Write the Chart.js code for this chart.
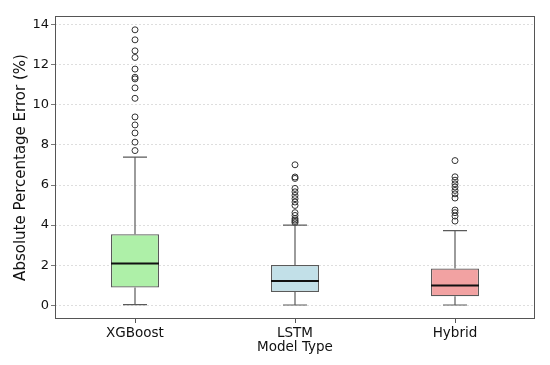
<!DOCTYPE html>
<html>
<head>
<meta charset="utf-8">
<script src="https://cdn.jsdelivr.net/npm/chart.js@4/dist/chart.umd.min.js"></script>
<style>
  html, body { margin: 0; padding: 0; background: #fff; }
  #wrap { width: 550px; height: 365px; }
</style>
</head>
<body>
<div id="wrap"><canvas id="boxChart"></canvas></div>
<script>
// box plot summary
const models = ["XGBoost", "LSTM", "Hybrid"];
const q1 = [0.88, 0.66, 0.45];
const medians = [2.08, 1.21, 0.98];
const q3 = [3.54, 2.01, 1.83];
const whiskerLow = [0.03, 0.01, 0.01];
const whiskerHigh = [7.39, 4.0, 3.72];
const outliersXGB = [13.75, 13.25, 12.7, 12.37, 11.79, 11.38, 11.3, 10.85, 10.33, 9.4, 9.0, 8.6, 8.14, 7.72];
const outliersLSTM = [7.01, 6.4, 6.33, 5.83, 5.66, 5.48, 5.32, 5.15, 4.98, 4.62, 4.48, 4.33, 4.25, 4.18, 4.12];
const outliersHybrid = [7.22, 6.41, 6.24, 6.06, 5.9, 5.73, 5.56, 5.35, 4.75, 4.62, 4.45, 4.2];
const yTicks = [0, 2, 4, 6, 8, 10, 12, 14];

const boxColors = ["#aef0a8", "#c2e0e8", "#f2a2a2"];
const lineColor = "#5a5a5a";

const outlierPoints = [];
[outliersXGB, outliersLSTM, outliersHybrid].forEach((list, i) => {
  list.forEach((v) => outlierPoints.push({ x: models[i], y: v }));
});

// whiskers, caps, medians and the frame
const boxPlugin = {
  id: "boxExtras",
  afterDatasetsDraw(chart) {
    const ctx = chart.ctx;
    const xs = chart.scales.x;
    const ys = chart.scales.y;
    const bars = chart.getDatasetMeta(0).data;
    ctx.save();
    models.forEach((m, i) => {
      const cx = xs.getPixelForValue(i);
      const bw = bars[i].width;
      const capHalf = bw / 4;
      ctx.strokeStyle = lineColor;
      ctx.lineWidth = 1.2;
      ctx.beginPath();
      ctx.moveTo(cx, ys.getPixelForValue(q3[i]));
      ctx.lineTo(cx, ys.getPixelForValue(whiskerHigh[i]));
      ctx.moveTo(cx, ys.getPixelForValue(q1[i]));
      ctx.lineTo(cx, ys.getPixelForValue(whiskerLow[i]));
      ctx.moveTo(cx - capHalf, ys.getPixelForValue(whiskerHigh[i]));
      ctx.lineTo(cx + capHalf, ys.getPixelForValue(whiskerHigh[i]));
      ctx.moveTo(cx - capHalf, ys.getPixelForValue(whiskerLow[i]));
      ctx.lineTo(cx + capHalf, ys.getPixelForValue(whiskerLow[i]));
      ctx.stroke();
      ctx.strokeStyle = "#111";
      ctx.lineWidth = 2;
      ctx.beginPath();
      ctx.moveTo(cx - bw / 2, ys.getPixelForValue(medians[i]));
      ctx.lineTo(cx + bw / 2, ys.getPixelForValue(medians[i]));
      ctx.stroke();
    });
    const a = chart.chartArea;
    ctx.strokeStyle = "#555";
    ctx.lineWidth = 1;
    ctx.strokeRect(a.left + 0.5, a.top + 0.5, a.right - a.left - 1, a.bottom - a.top - 1);
    ctx.restore();
  },
};

new Chart(document.getElementById("boxChart"), {
  data: {
    labels: models,
    datasets: [
      {
        type: "bar",
        label: "IQR",
        data: models.map((m, i) => [q1[i], q3[i]]),
        backgroundColor: boxColors,
        borderColor: lineColor,
        borderWidth: 1.2,
        borderSkipped: false,
        barPercentage: 0.3,
        categoryPercentage: 1,
        order: 2,
      },
      {
        type: "line",
        label: "Outliers",
        data: outlierPoints,
        showLine: false,
        pointRadius: 3,
        pointBorderWidth: 1,
        pointBorderColor: "#333",
        pointBackgroundColor: "rgba(0,0,0,0)",
        order: 1,
      },
    ],
  },
  options: {
    responsive: true,
    maintainAspectRatio: false,
    animation: false,
    layout: { padding: { top: 16, right: 15, left: 0, bottom: 0 } },
    plugins: {
      legend: { display: false },
      tooltip: { enabled: false },
    },
    scales: {
      x: {
        type: "category",
        offset: true,
        grid: { offset: false, drawOnChartArea: false, drawTicks: true, tickLength: 4, color: "#555" },
        border: { display: false },
        ticks: { color: "#111", font: { family: "DejaVu Sans", size: 13.5 }, padding: 2 },
        title: {
          display: true,
          text: "Model Type",
          color: "#111",
          font: { family: "DejaVu Sans", size: 13.5 },
          padding: { top: 0, bottom: 9 },
        },
        afterFit: (scale) => { scale.height = 46; },
      },
      y: {
        min: -0.69,
        max: 14.44,
        afterBuildTicks: (scale) => { scale.ticks = yTicks.map((v) => ({ value: v })); },
        grid: { color: "#d6d6d6", lineWidth: 0.8, tickLength: 4, tickColor: "#555" },
        border: { display: false, dash: [2, 2] },
        ticks: { color: "#111", font: { family: "DejaVu Sans", size: 13 }, padding: 2 },
        title: {
          display: true,
          text: "Absolute Percentage Error (%)",
          color: "#111",
          font: { family: "DejaVu Sans", size: 15 },
          padding: { top: 12, bottom: 2 },
        },
        afterFit: (scale) => { scale.width = 55; },
      },
    },
  },
  plugins: [boxPlugin],
});
</script>
</body>
</html>
